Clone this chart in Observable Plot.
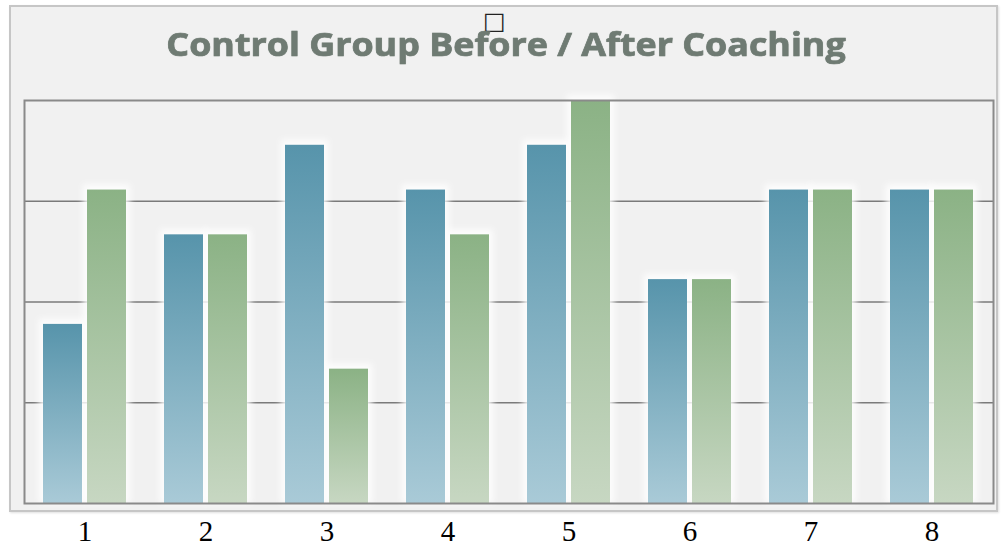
<!DOCTYPE html>
<html><head><meta charset="utf-8">
<script src="https://cdn.jsdelivr.net/npm/d3@7"></script>
<script src="https://cdn.jsdelivr.net/npm/@observablehq/plot@0.6"></script>
<style>
body{margin:0;background:#fff;}
#wrap{position:relative;width:1003px;height:548px;overflow:hidden;}
#box{position:absolute;left:9px;top:5px;width:985px;height:503px;background:#f1f1f1;border:2px solid #c6c6c6;box-shadow:1px 1px 2px rgba(0,0,0,0.12);}
#title{position:absolute;left:0;top:31px;width:1012px;text-align:center;font-family:"Open Sans";font-weight:700;font-size:32px;line-height:0.8;color:#6f7b73;letter-spacing:0px;transform:scaleX(1.12);transform-origin:506px 0;-webkit-text-stroke:0.7px #6f7b73;text-shadow:0 0 1px rgba(110,122,115,0.5);white-space:nowrap;}
#tofu{position:absolute;left:483px;top:13px;font-family:"DejaVu Sans";font-size:24px;line-height:16px;height:16px;color:#222;}
#chart{position:absolute;left:0;top:0;}
</style></head>
<body>
<div id="wrap">
  <div id="box"></div>
  <div id="tofu">□</div>
  <div id="title">Control Group Before / After Coaching</div>
  <div id="chart"></div>
</div>
<script>
const groups = ["1", "2", "3", "4", "5", "6", "7", "8"];
const before = [4, 6, 8, 7, 8, 5, 7, 7];
const after  = [7, 6, 3, 6, 9, 5, 7, 7];
const yTicks = [2.25, 4.5, 6.75];

const data = groups.map((g, i) => ({group: g, before: before[i], after: after[i]}));

const plot = Plot.plot({
  width: 1003,
  height: 548,
  marginTop: 100,
  marginBottom: 45,
  marginLeft: 24,
  marginRight: 10,
  style: {background: "transparent", fontFamily: "Liberation Serif", fontSize: "29px", color: "#000", overflow: "visible"},
  x: {domain: groups, paddingInner: 0.314, paddingOuter: 0.157, tickSize: 0, tickPadding: 17, label: null},
  y: {domain: [0, 9], axis: null},
  marks: [
    Plot.ruleY(yTicks, {stroke: "#7a7a7a", strokeWidth: 1.6}),
    Plot.barY(data, {x: "group", y: "before", fill: "#ffffff", fillOpacity: 0.85, insetRight: 40, insetLeft: -4, insetTop: -5, ariaLabel: "halo"}),
    Plot.barY(data, {x: "group", y: "after", fill: "#ffffff", fillOpacity: 0.85, insetLeft: 40, insetRight: -4, insetTop: -5, ariaLabel: "halo"}),
    Plot.barY(data, {x: "group", y: "before", fill: "url(#gBlue)", insetRight: 44}),
    Plot.barY(data, {x: "group", y: "after", fill: "url(#gGreen)", insetLeft: 44}),
    Plot.frame({stroke: "#8a8a8a", strokeWidth: 2})
  ]
});

const ns = "http://www.w3.org/2000/svg";
const defs = document.createElementNS(ns, "defs");
defs.innerHTML = `
<linearGradient id="gBlue" x1="0" y1="0" x2="0" y2="1">
  <stop offset="0" stop-color="#5794ab"/>
  <stop offset="1" stop-color="#a9cad7"/>
</linearGradient>
<linearGradient id="gGreen" x1="0" y1="0" x2="0" y2="1">
  <stop offset="0" stop-color="#8bb285"/>
  <stop offset="1" stop-color="#c7d7c2"/>
</linearGradient>
<filter id="blur" filterUnits="userSpaceOnUse" x="0" y="0" width="1003" height="548">
  <feGaussianBlur stdDeviation="3"/>
</filter>`;
plot.insertBefore(defs, plot.firstChild);
plot.querySelectorAll("g").forEach(g => {
  const f = (g.getAttribute("fill") || "").toLowerCase();
  if (g.getAttribute("aria-label") === "halo" || f === "#ffffff" || f === "white") {
    g.setAttribute("filter", "url(#blur)");
  }
});

document.getElementById("chart").appendChild(plot);
</script>
</body></html>
